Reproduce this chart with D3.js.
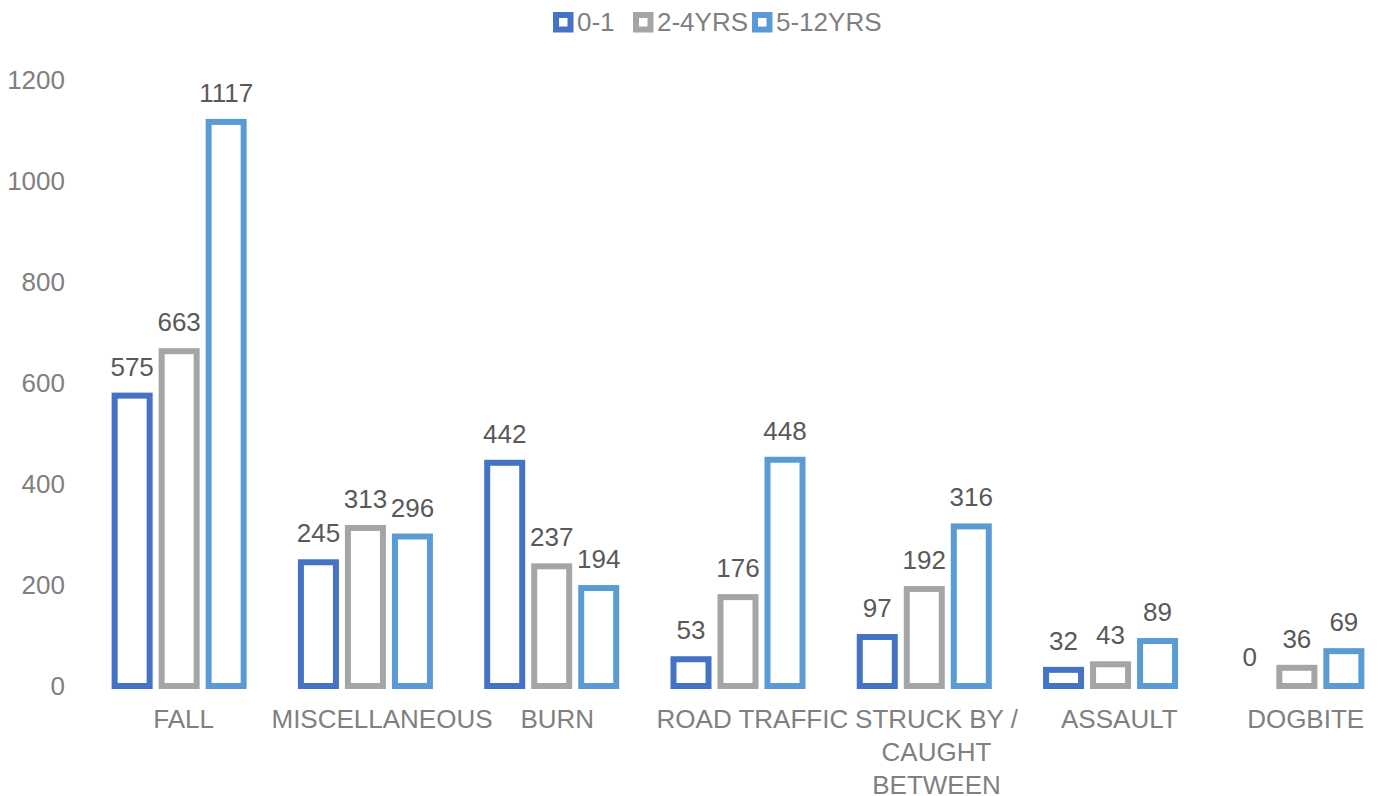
<!DOCTYPE html>
<html>
<head>
<meta charset="utf-8">
<script src="https://cdn.jsdelivr.net/npm/d3@7"></script>
<style>
  body { margin: 0; background: #fff; }
  text { font-family: "Liberation Sans", Arial, sans-serif; }
</style>
</head>
<body>
<div id="canvas"></div>
<script>
/* Chart data */
const CATEGORIES = ["FALL", "MISCELLANEOUS", "BURN", "ROAD TRAFFIC", "STRUCK BY / CAUGHT BETWEEN", "ASSAULT", "DOGBITE"]
const SERIES = ["0-1", "2-4YRS", "5-12YRS"]
const AGE_0_1 = [575, 245, 442, 53, 97, 32, 0]
const AGE_2_4 = [663, 313, 237, 176, 192, 43, 36]
const AGE_5_12 = [1117, 296, 194, 448, 316, 89, 69]
const Y_TICKS = [0, 200, 400, 600, 800, 1000, 1200]

/* Layout constants */
const WIDTH = 1383
const HEIGHT = 796
const COLORS = {"0-1": "#4472C4", "2-4YRS": "#A5A5A5", "5-12YRS": "#5B9BD5"}
const FONT_SIZE = 26
const BAR_STROKE = 6
const AXIS_TEXT = "#808080"
const LABEL_TEXT = "#595959"

const values = {"0-1": AGE_0_1, "2-4YRS": AGE_2_4, "5-12YRS": AGE_5_12}
const rows = CATEGORIES.map((c, i) => ({cat: c, vals: SERIES.map((s) => ({key: s, value: values[s][i]}))}))

const svg = d3.select("#canvas")
              .append("svg")
              .attr("width", WIDTH)
              .attr("height", HEIGHT);

const x0 = d3.scaleBand()
             .domain(CATEGORIES)
             .range([86, 1390])
             .paddingInner(0.243)
             .paddingOuter(0.1215);
const x1 = d3.scaleBand()
             .domain(SERIES)
             .range([0, x0.bandwidth()]);
const y = d3.scaleLinear()
            .domain([0, 1200])
            .range([686, 80]);

/* Y axis labels only, no lines */
const yAxis = d3.axisLeft(y).tickValues(Y_TICKS).tickFormat(d3.format("d")).tickSize(0).tickPadding(0);
const yg = svg.append("g")
              .attr("transform", "translate(65,0)")
              .call(yAxis);
yg.select(".domain").remove();
yg.selectAll("text")
  .attr("fill", AXIS_TEXT)
  .style("font-size", FONT_SIZE + "px")
  .style("font-family", "'Liberation Sans', Arial, sans-serif");

/* Bars */
const groups = svg.append("g")
                  .selectAll("g")
                  .data(rows)
                  .enter()
                  .append("g")
                  .attr("transform", (d) => "translate(" + x0(d.cat) + ",0)");

groups.selectAll("rect")
      .data((d) => d.vals.filter((v) => v.value > 0))
      .enter()
      .append("rect")
      .attr("x", (d) => x1(d.key) + 3 + BAR_STROKE / 2)
      .attr("width", x1.bandwidth() - 6 - BAR_STROKE)
      .attr("y", (d) => y(d.value))
      .attr("height", (d) => y(0) - y(d.value))
      .attr("fill", "#fff")
      .attr("stroke", (d) => COLORS[d.key])
      .attr("stroke-width", BAR_STROKE);

groups.selectAll("text.value")
      .data((d) => d.vals)
      .enter()
      .append("text")
      .attr("class", "value")
      .attr("x", (d) => x1(d.key) + x1.bandwidth() / 2)
      .attr("y", (d) => y(d.value) - 20)
      .attr("text-anchor", "middle")
      .attr("fill", LABEL_TEXT)
      .style("font-size", FONT_SIZE + "px")
      .text((d) => d.value);

/* Category labels, wrapped */
const probe = svg.append("text").style("font-size", FONT_SIZE + "px");
const textWidth = (s) => {
  probe.text(s);
  return probe.node().getComputedTextLength();
}
const wrapLines = (label, maxWidth) => {
  let words = label.split(" ");
  let lines = [];
  let line = "";
  words.forEach((w) => {
    let test = line ? line + " " + w : w;
    if (line && textWidth(test) > maxWidth) {
      lines.push(line);
      line = w;
    } else {
      line = test;
    }
  });
  lines.push(line);
  return lines;
}
CATEGORIES.forEach((c) => {
  let lines = wrapLines(c, 200);
  let w = d3.max(lines, textWidth);
  let cx = x0(c) + x0.bandwidth() / 2 + w * 0.075;
  let t = svg.append("text")
             .attr("text-anchor", "middle")
             .attr("fill", AXIS_TEXT)
             .style("font-size", FONT_SIZE + "px");
  lines.forEach((l, i) => {
    t.append("tspan")
     .attr("x", cx)
     .attr("y", 728 + i * 33)
     .text(l);
  });
});
probe.remove();

/* Legend */
const LEGEND_X = [553, 633, 752];
const legend = svg.append("g");
SERIES.forEach((s, i) => {
  legend.append("rect")
        .attr("x", LEGEND_X[i] + 3)
        .attr("y", 15)
        .attr("width", 14.5)
        .attr("height", 14.5)
        .attr("fill", "#fff")
        .attr("stroke", COLORS[s])
        .attr("stroke-width", 6);
  legend.append("text")
        .attr("x", LEGEND_X[i] + 24)
        .attr("y", 30.5)
        .attr("fill", AXIS_TEXT)
        .style("font-size", FONT_SIZE + "px")
        .text(s);
});
</script>
</body>
</html>
